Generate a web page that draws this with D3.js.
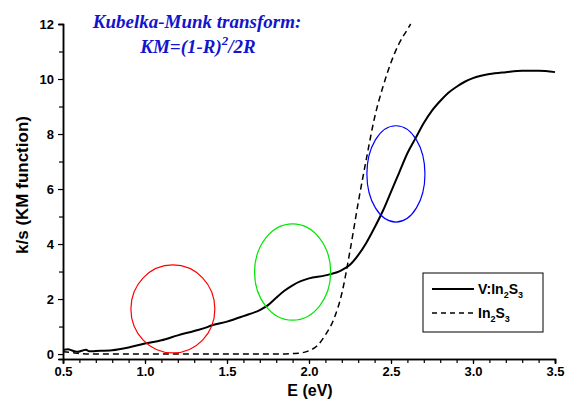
<!DOCTYPE html>
<html>
<head>
<meta charset="utf-8">
<script src="https://cdn.jsdelivr.net/npm/d3@7"></script>
<style>
  body { margin: 0; background: #fff; }
  text { font-family: "Liberation Sans", Arial, sans-serif; }
</style>
</head>
<body>
<div class="chart-box"></div>
<script>
// V:In2S3 (solid)
var dopedE  = [0.5, 0.53, 0.56, 0.59, 0.62, 0.64, 0.66, 0.7, 0.8, 0.9, 1.0, 1.1, 1.2, 1.3, 1.38, 1.4, 1.5, 1.6, 1.7, 1.75, 1.8, 1.85, 1.9, 1.95, 2.0, 2.1, 2.2, 2.25, 2.3, 2.35, 2.4, 2.45, 2.5, 2.55, 2.6, 2.65, 2.7, 2.75, 2.8, 2.85, 2.9, 2.95, 3.0, 3.1, 3.2, 3.3, 3.4, 3.5];
var dopedKM = [0.15, 0.17, 0.12, 0.08, 0.13, 0.16, 0.1, 0.11, 0.14, 0.24, 0.38, 0.5, 0.68, 0.84, 0.98, 1.03, 1.18, 1.38, 1.6, 1.78, 2.05, 2.3, 2.5, 2.65, 2.75, 2.86, 3.05, 3.25, 3.6, 4.05, 4.6, 5.2, 5.9, 6.6, 7.3, 7.85, 8.4, 8.85, 9.2, 9.5, 9.72, 9.9, 10.03, 10.18, 10.25, 10.3, 10.3, 10.25];

// In2S3 (dashed)
var pureE  = [0.5, 0.55, 0.6, 0.7, 0.9, 1.2, 1.5, 1.8, 1.9, 1.95, 2.0, 2.05, 2.1, 2.15, 2.2, 2.25, 2.3, 2.35, 2.4, 2.45, 2.5, 2.55, 2.6, 2.62];
var pureKM = [0.08, 0.06, 0.02, 0, 0, 0, 0, 0, 0.02, 0.04, 0.12, 0.3, 0.7, 1.25, 2.2, 3.75, 5.5, 7.1, 8.6, 9.7, 10.6, 11.3, 11.8, 12.0];

// highlighted regions (center E, center KM, half width E, half height KM)
var ringE   = [1.17, 1.90, 2.53];
var ringKM  = [1.64, 2.98, 6.55];
var ringRE  = [0.256, 0.232, 0.177];
var ringRKM = [1.6, 1.75, 1.75];
var ringColor = ["#ff0000", "#00e600", "#0000ff"];

var xMajor = [0.5, 1.0, 1.5, 2.0, 2.5, 3.0, 3.5];
var yMajor = [0, 2, 4, 6, 8, 10, 12];

var width = 579, height = 401;

var svg = d3.select(".chart-box").append("svg")
    .attr("width", width)
    .attr("height", height);

var x = d3.scaleLinear().domain([0.5, 3.5]).range([63, 555]);
var y = d3.scaleLinear().domain([-0.18, 12]).range([359, 24]);

// axes
var xAxis = d3.axisBottom(x).tickValues(xMajor).tickFormat(d3.format(".1f")).tickSize(5).tickPadding(3);
var xMinor = d3.axisBottom(x).tickValues(d3.range(5, 36).map(function(d) { return d / 10; })).tickSize(4).tickFormat("");
var yAxis = d3.axisLeft(y).tickValues(yMajor).tickFormat(d3.format("d")).tickSize(5).tickPadding(4);
var yMinor = d3.axisLeft(y).tickValues([1, 3, 5, 7, 9, 11]).tickSize(4).tickFormat("");

function styleAxis(g) {
  g.select(".domain").attr("stroke", "#000").attr("stroke-width", 1.5);
  g.selectAll(".tick line").attr("stroke", "#000").attr("stroke-width", 1.2);
  g.selectAll(".tick text").attr("fill", "#000").attr("font-size", 13).attr("font-weight", "bold")
    .style("font-family", "'Liberation Sans', Arial, sans-serif");
}

svg.append("g").attr("transform", "translate(0,359)").call(xMinor).call(styleAxis);
svg.append("g").attr("transform", "translate(0,359)").call(xAxis).call(styleAxis);
svg.append("g").attr("transform", "translate(63,0)").call(yMinor).call(styleAxis);
svg.append("g").attr("transform", "translate(63,0)").call(yAxis).call(styleAxis);

// axis titles
svg.append("text")
    .attr("x", 310).attr("y", 396)
    .attr("text-anchor", "middle")
    .attr("font-size", 16).attr("font-weight", "bold")
    .text("E (eV)");

svg.append("text")
    .attr("transform", "translate(28,185) rotate(-90)")
    .attr("text-anchor", "middle")
    .attr("font-size", 17).attr("font-weight", "bold")
    .text("k/s (KM function)");

// curves
var line = d3.line()
    .x(function(d) { return x(d[0]); })
    .y(function(d) { return y(d[1]); })
    .curve(d3.curveMonotoneX);

svg.append("path")
    .datum(pureE.map(function(e, i) { return [e, pureKM[i]]; }))
    .attr("fill", "none")
    .attr("stroke", "#000")
    .attr("stroke-width", 1.5)
    .attr("stroke-dasharray", "6,4")
    .attr("d", line);

svg.append("path")
    .datum(dopedE.map(function(e, i) { return [e, dopedKM[i]]; }))
    .attr("fill", "none")
    .attr("stroke", "#000")
    .attr("stroke-width", 2)
    .attr("d", line);

// ellipses
svg.append("g").selectAll("ellipse")
    .data(ringE)
    .enter().append("ellipse")
      .attr("cx", function(d) { return x(d); })
      .attr("cy", function(d, i) { return y(ringKM[i]); })
      .attr("rx", function(d, i) { return x(ringE[i] + ringRE[i]) - x(ringE[i]); })
      .attr("ry", function(d, i) { return y(0) - y(ringRKM[i]); })
      .attr("fill", "none")
      .attr("stroke", function(d, i) { return ringColor[i]; })
      .attr("stroke-width", 1.2);

// title annotation
var title = svg.append("g")
    .attr("fill", "#1414cc")
    .attr("font-weight", "bold")
    .attr("font-style", "italic")
    .attr("font-size", 19);

title.append("text")
    .attr("x", 197).attr("y", 28)
    .attr("text-anchor", "middle")
    .style("font-family", "'Liberation Serif', 'Times New Roman', serif")
    .text("Kubelka-Munk transform:");

var t2 = title.append("text")
    .attr("x", 198).attr("y", 53)
    .attr("text-anchor", "middle")
    .style("font-family", "'Liberation Serif', 'Times New Roman', serif");
t2.append("tspan").text("KM=(1-R)");
t2.append("tspan").attr("font-size", 13).attr("dy", -8).text("2");
t2.append("tspan").attr("dy", 8).text("/2R");

// legend
var legend = svg.append("g");
legend.append("rect")
    .attr("x", 423).attr("y", 273)
    .attr("width", 120).attr("height", 59)
    .attr("fill", "#fff")
    .attr("stroke", "#000")
    .attr("stroke-width", 1);

var legendItems = [
  { name: "V:In", dash: null, yy: 289 },
  { name: "In", dash: "5,4", yy: 313 }
];

legendItems.forEach(function(it) {
  legend.append("line")
      .attr("x1", 432).attr("x2", 474)
      .attr("y1", it.yy).attr("y2", it.yy)
      .attr("stroke", "#000")
      .attr("stroke-width", it.dash ? 1.3 : 2)
      .attr("stroke-dasharray", it.dash);
  var t = legend.append("text")
      .attr("x", 478).attr("y", it.yy + 5)
      .attr("font-size", 14).attr("font-weight", "bold");
  t.append("tspan").text(it.name);
  t.append("tspan").attr("font-size", 9).attr("dy", 4).text("2");
  t.append("tspan").attr("dy", -4).text("S");
  t.append("tspan").attr("font-size", 9).attr("dy", 4).text("3");
});
</script>
</body>
</html>
